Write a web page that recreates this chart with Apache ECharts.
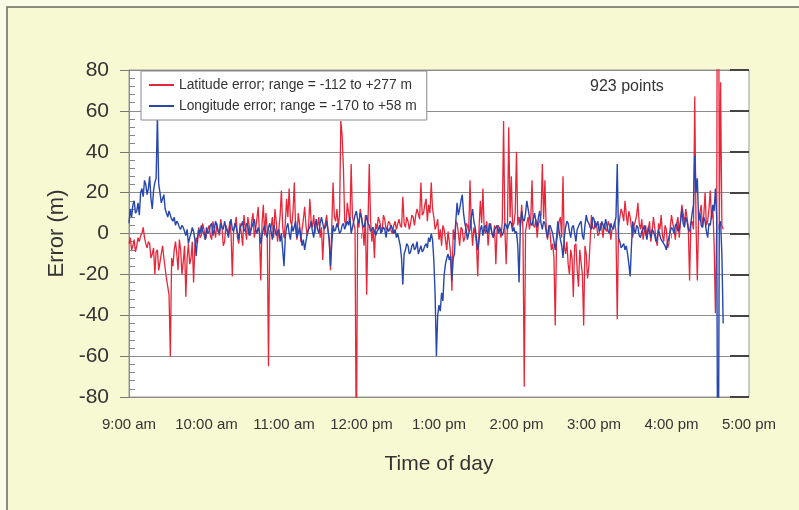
<!DOCTYPE html>
<html>
<head>
<meta charset="utf-8">
<script src="https://cdn.jsdelivr.net/npm/echarts@6/dist/echarts.min.js"></script>
<style>
html,body{margin:0;padding:0;background:#fbfce6;}
#chart{width:799px;height:510px;}
</style>
</head>
<body>
<div id="chart"></div>
<script>
// Time axis: minutes after 9:00 am
const timeTickLabels = ['9:00 am','10:00 am','11:00 am','12:00 pm','1:00 pm','2:00 pm','3:00 pm','4:00 pm','5:00 pm'];
const sampleStepMinutes = 1; // values below are read once per minute starting at 9:00 am

const latitudeError = [
  -5,-2,-8,-6,-3,-9,-6,-2,-4,-1,0,3,-2,-5,-7,-4,-5,-12,-10,-7,
  -20,-9,-8,-18,-14,-10,-6,-12,-17,-22,-26,-30,-60,-12,-16,-8,-4,-10,-18,-3,
  -8,-20,-14,-6,-31,-12,-5,-15,-12,-4,-24,-6,-2,-5,3,-2,-1,5,2,-3,
  0,2,4,-1,-3,6,2,-2,5,1,-1,7,3,-6,-4,4,2,-1,6,0,
  -21,2,4,8,-2,-5,5,0,-6,9,3,-3,8,4,-1,6,10,-2,2,7,
  13,0,-23,5,14,-1,10,2,-65,1,3,8,-2,12,6,-4,2,9,21,3,
  -2,5,17,8,22,6,4,11,25,2,-3,10,5,-4,2,7,13,4,-1,3,
  17,6,3,9,0,5,4,8,-2,3,-13,2,5,9,2,-3,-18,4,25,8,
  6,12,3,9,55,48,32,6,4,15,10,5,34,8,5,2,-112,6,3,12,
  8,2,-6,9,-30,4,34,7,-4,3,-12,5,2,8,6,3,1,9,7,2,
  3,6,5,1,0,4,6,2,2,7,4,3,18,5,3,8,6,2,5,9,
  8,4,9,12,12,7,25,9,10,14,17,6,14,10,25,12,8,2,4,7,
  -3,2,-6,4,2,-3,-8,1,-4,-10,-28,2,-3,6,5,0,-6,3,2,-4,
  -2,5,4,1,26,4,-6,3,0,-5,-21,3,16,5,22,2,0,6,-6,2,
  5,0,-2,4,-15,3,4,1,-2,6,55,2,-15,4,52,8,28,3,5,10,
  40,4,8,3,14,2,-75,1,5,8,2,6,26,4,3,7,-2,5,6,9,
  34,7,26,2,-3,4,0,-8,-5,-12,-45,-4,0,6,8,-2,28,-6,-10,-4,
  -15,-20,-8,-12,-31,-6,-5,-18,-26,-8,-14,-20,-45,-6,-10,-22,-16,-4,9,3,
  2,6,4,-1,0,5,3,-2,5,2,1,6,4,-3,2,3,6,1,-42,3,
  8,12,10,6,16,9,4,11,8,3,-2,4,6,9,15,5,2,7,-3,1,
  4,-2,2,6,-4,1,8,3,-3,-6,5,2,9,-1,-4,4,2,-7,-5,3,
  9,5,2,-3,5,8,-2,6,14,10,4,12,8,3,-23,5,6,2,67,4,
  -23,8,10,14,3,9,20,4,6,12,21,7,12,-5,-39,3,277,2,74,4,
  2
];

const longitudeError = [
  5,12,8,14,16,10,11,15,9,20,22,18,26,24,19,22,28,17,12,21,
  25,27,58,24,20,15,17,19,12,10,8,11,9,7,6,8,4,6,5,3,
  2,4,3,1,-1,2,-5,-2,0,3,1,-3,-11,-2,2,0,4,1,0,-3,
  3,0,1,4,5,-1,2,6,4,1,0,5,3,2,6,3,1,-2,4,7,
  2,1,5,3,0,-3,3,4,6,1,2,5,4,-1,1,3,5,7,2,0,
  3,1,-5,-1,2,4,0,-2,3,5,1,-3,4,2,-1,1,2,-4,0,-8,
  -16,-2,3,5,0,-3,4,1,1,6,-2,0,3,-1,-6,-3,-8,-4,0,2,
  3,6,1,-2,4,7,2,0,5,8,5,2,3,6,2,-3,-16,-5,4,1,
  2,5,3,0,1,4,5,2,2,6,4,8,0,3,6,9,11,7,5,10,
  8,4,3,6,9,5,4,1,2,3,3,-1,1,2,4,0,0,3,2,-2,
  3,1,1,4,4,0,2,-2,0,-3,-6,-12,-25,-10,-8,-5,-6,-10,-9,-6,
  -5,-8,-7,-4,-10,-8,-6,-9,-8,-6,-5,-7,-2,-4,0,-3,-13,-30,-60,-40,
  -35,-38,-29,-33,-20,-15,-12,-10,-13,-11,-23,-12,-10,6,15,9,12,16,19,10,
  5,2,-3,0,2,8,12,6,3,-2,-8,-3,2,4,-1,3,4,1,0,5,
  3,0,-2,2,2,4,0,3,3,-1,1,5,4,2,2,6,5,1,3,0,
  1,-6,-24,4,11,7,6,10,16,12,8,5,4,7,10,6,3,8,11,5,
  2,6,5,1,-2,3,4,2,0,-4,-8,-2,6,1,-3,-6,-12,-2,3,6,
  5,1,-2,3,4,0,-4,2,2,5,6,-1,-3,4,9,6,5,3,2,8,
  7,3,4,6,1,2,6,4,2,7,4,1,0,5,3,2,5,8,34,-2,
  -4,-7,-6,-5,-8,-6,-10,-15,-21,-6,6,2,0,4,3,-1,-2,1,2,4,
  0,-3,3,1,-2,2,1,-1,-4,-2,2,-1,-3,-4,-5,-6,-8,-4,-2,1,
  3,2,0,4,5,1,2,6,12,5,3,8,6,2,1,5,10,14,38,20,
  27,6,10,4,3,8,6,1,-2,5,4,9,14,11,22,8,-170,4,6,-10,
  -44
];

const seriesNames = ['Latitude error; range = -112 to +277 m', 'Longitude error; range = -170 to +58 m'];
const pointCountLabel = '923 points';

function toPairs(values) {
  return values.map((v, i) => [i * sampleStepMinutes, v]);
}

const chart = echarts.init(document.getElementById('chart'), null, {renderer: 'canvas'});
const fontFam = '"Liberation Sans", Arial, Helvetica, sans-serif';

chart.setOption({
  backgroundColor: '#fbfce6',
  animation: false,
  graphic: [
    {type: 'rect', z: -10, shape: {x: 7, y: 7, width: 800, height: 510},
     style: {fill: '#f7f9d2', stroke: '#6a6a60', lineWidth: 1.5}},
    {type: 'text', left: 590, top: 79, z: 10,
     style: {text: pointCountLabel, font: '16px ' + fontFam, fill: '#333'}}
  ],
  grid: {left: 129, right: 50, top: 70, bottom: 113, show: true,
         backgroundColor: '#ffffff', borderColor: '#9a9a9a', borderWidth: 1},
  legend: {
    left: 141, top: 71, orient: 'vertical',
    backgroundColor: '#ffffff', borderColor: '#8a8a8a', borderWidth: 1,
    padding: [7, 10, 7, 8], itemGap: 7, itemWidth: 25, itemHeight: 2, icon: 'rect',
    textStyle: {fontFamily: fontFam, fontSize: 13.8, color: '#333'},
    data: seriesNames
  },
  xAxis: {
    type: 'value', min: 0, max: 480, interval: 60,
    axisLine: {show: true, lineStyle: {color: '#8a8a8a', width: 1}},
    axisTick: {show: true, length: 5, lineStyle: {color: '#8a8a8a'}},
    splitLine: {show: false},
    axisLabel: {margin: 20, fontFamily: fontFam, fontSize: 15, color: '#333',
      formatter: v => timeTickLabels[Math.round(v / 60)] || ''},
    name: 'Time of day', nameLocation: 'middle', nameGap: 57,
    nameTextStyle: {fontFamily: fontFam, fontSize: 21, color: '#333'}
  },
  yAxis: [
    {
      type: 'value', min: -80, max: 80, interval: 20,
      axisLine: {show: true, lineStyle: {color: '#8a8a8a'}},
      axisTick: {show: true, length: 9, lineStyle: {color: '#777'}},
      splitLine: {show: true, lineStyle: {color: '#8c8c8c', width: 1.2}},
      axisLabel: {margin: 20, fontFamily: fontFam, fontSize: 21, color: '#333'},
      name: 'Error (m)', nameLocation: 'middle', nameGap: 60,
      nameTextStyle: {fontFamily: fontFam, fontSize: 22, color: '#333'}
    },
    {
      type: 'value', min: -80, max: 80, interval: 20, position: 'left',
      axisLine: {show: false}, axisLabel: {show: false}, splitLine: {show: false},
      axisTick: {show: false, inside: true},
      minorTick: {show: true, splitNumber: 5, length: 6, lineStyle: {color: '#888'}}
    },
    {
      type: 'value', min: -80, max: 80, interval: 20, position: 'right',
      axisLine: {show: false}, axisLabel: {show: false}, splitLine: {show: false},
      axisTick: {show: true, inside: true, length: 19, lineStyle: {color: '#444', width: 2}}
    }
  ],
  series: [
    {name: seriesNames[0], type: 'line', data: toPairs(latitudeError), showSymbol: false,
     clip: true, lineStyle: {color: '#e8263a', width: 1.3}, itemStyle: {color: '#e8263a'}},
    {name: seriesNames[1], type: 'line', data: toPairs(longitudeError), showSymbol: false,
     clip: true, lineStyle: {color: '#2747ad', width: 1.4}, itemStyle: {color: '#2747ad'}}
  ]
});
</script>
</body>
</html>
